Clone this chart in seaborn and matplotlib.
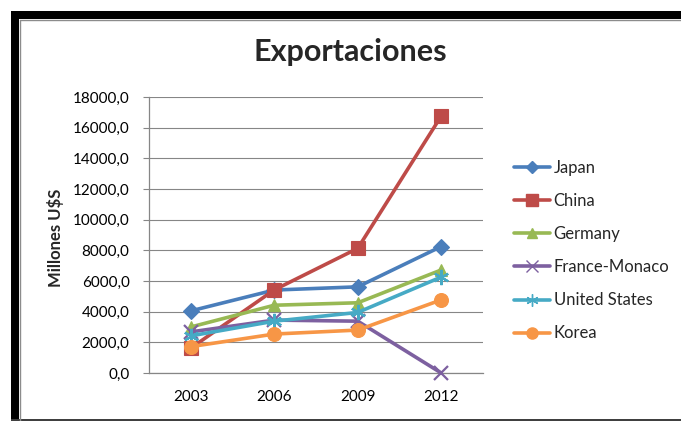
import matplotlib
matplotlib.use("Agg")
import matplotlib.pyplot as plt
from matplotlib.lines import Line2D
from matplotlib.patches import Rectangle
import seaborn as sns
import pandas as pd

# Export values (millions of US$) per country and year
years = ["2003", "2006", "2009", "2012"]
japan = [4050, 5410, 5620, 8250]
china = [1620, 5420, 8130, 16760]
germany = [3000, 4420, 4580, 6720]
france_monaco = [2680, 3450, 3380, 0]
united_states = [2420, 3380, 3950, 6260]
korea = [1720, 2540, 2800, 4770]

countries = ["Japan", "China", "Germany", "France-Monaco", "United States", "Korea"]
series = [japan, china, germany, france_monaco, united_states, korea]
colors = ["#4A7EBB", "#BE4B48", "#98B954", "#7D60A0", "#46AAC5", "#F79646"]
markers = ["D", "s", "^", "x", (6, 2, 0), "o"]
msizes = [8, 10, 9, 10, 11, 10]
y_ticks = list(range(0, 18001, 2000))

sns.set_theme(style="white")
plt.rcParams["font.family"] = ["Lato", "DejaVu Sans"]

fig = plt.figure(figsize=(6.81, 4.21), dpi=100)
ax = fig.add_axes([149 / 681, 1 - 373 / 421, (483 - 149) / 681, (373 - 97) / 421])

rows = []
for name, vals in zip(countries, series):
    for i, v in enumerate(vals):
        rows.append({"pos": i, "year": years[i], "value": v, "country": name})
df = pd.DataFrame(rows)

handles = []
for name, col, mk, ms in zip(countries, colors, markers, msizes):
    sub = df[df["country"] == name]
    sns.lineplot(data=sub, x="pos", y="value", ax=ax, color=col, linewidth=2.6,
                 marker=mk, markersize=ms, markeredgecolor=col, markerfacecolor=col,
                 markeredgewidth=1.6 if mk in ("x", (6, 2, 0)) else 0.8,
                 legend=False, clip_on=False, zorder=3)
    handles.append(Line2D([], [], color=col, linewidth=2.6, marker=mk,
                          markersize=ms * 0.8, markeredgecolor=col,
                          markerfacecolor=col, label=name))

ax.set_xlim(-0.5, 3.5)
ax.set_ylim(0, 18000)
ax.set_xticks(range(len(years)))
ax.set_xticklabels(years)
ax.set_yticks(y_ticks)
ax.set_yticklabels([f"{t:.1f}".replace(".", ",") for t in y_ticks])
ax.tick_params(axis="y", which="major", length=4, width=0.8, color="#868686",
               direction="out", left=True, labelsize=11, pad=10, labelcolor="black")
ax.tick_params(axis="x", length=0, labelsize=11, pad=12, labelcolor="black")
ax.grid(axis="y", color="#868686", linewidth=0.8)
ax.set_axisbelow(True)
for side in ("top", "right"):
    ax.spines[side].set_visible(False)
for side in ("left", "bottom"):
    ax.spines[side].set_color("#868686")
    ax.spines[side].set_linewidth(0.9)

ax.set_xlabel("")
ax.set_ylabel("Millones U$S", fontsize=12, fontweight="bold")
ax.yaxis.set_label_coords(-0.254, 0.49)

fig.text(350 / 681, 1 - 52 / 421, "Exportaciones", ha="center", va="center",
         fontsize=22, fontweight="bold")

fig.legend(handles=handles, loc="upper left", bbox_to_anchor=(507 / 681, 1 - 153 / 421),
           frameon=False, fontsize=12, handlelength=2.2, handletextpad=0.2,
           labelspacing=1.03, borderaxespad=0)

# chart frame: heavy black border on the left and top, thin rule at the bottom
fig.patches.append(Rectangle((11 / 681, 0), 8 / 681, 1 - 11 / 421, transform=fig.transFigure,
                             facecolor="black", edgecolor="none"))
fig.patches.append(Rectangle((11 / 681, 1 - 19 / 421), 1, 8 / 421, transform=fig.transFigure,
                             facecolor="black", edgecolor="none"))
fig.add_artist(Line2D([19.5 / 681, 1], [1 - 20 / 421, 1 - 20 / 421], transform=fig.transFigure,
                      color="#8c8c8c", linewidth=1))
fig.add_artist(Line2D([19.5 / 681, 19.5 / 681], [0, 1 - 20 / 421], transform=fig.transFigure,
                      color="#8c8c8c", linewidth=1))
fig.patches.append(Rectangle((11 / 681, 0), 1, 2 / 421, transform=fig.transFigure,
                             facecolor="#404040", edgecolor="none"))

fig.savefig("out.png", dpi=100)
